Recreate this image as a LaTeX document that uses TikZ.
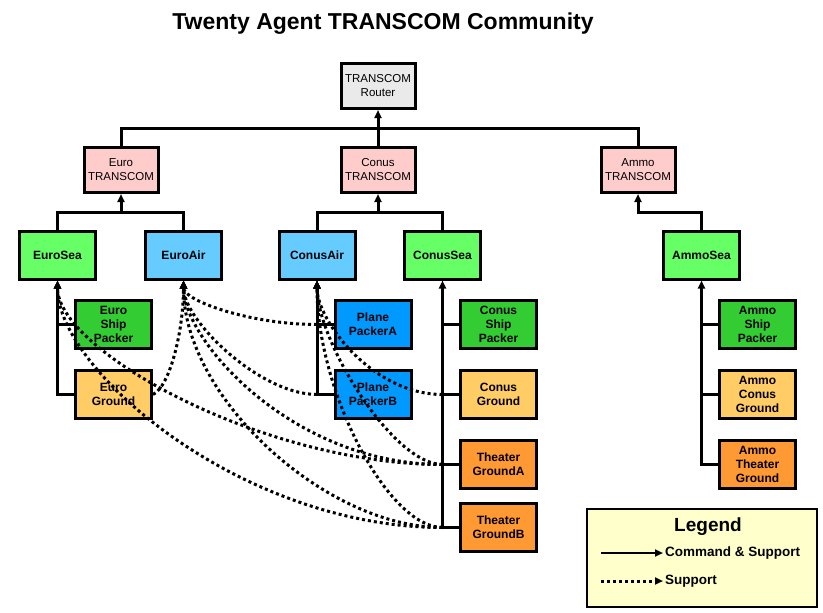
\documentclass[tikz,border=0pt]{standalone}
\usepackage{fontspec}
\setmainfont{Liberation Sans}
\usepackage{xcolor}
\usetikzlibrary{arrows.meta}
\definecolor{routerGray}{HTML}{EAEAEA}
\definecolor{hqPink}{HTML}{FFCCCC}
\definecolor{seaGreen}{HTML}{66FF66}
\definecolor{airBlue}{HTML}{66CCFF}
\definecolor{shipGreen}{HTML}{33CC33}
\definecolor{planeBlue}{HTML}{0099FF}
\definecolor{groundTan}{HTML}{FFCC66}
\definecolor{theaterOrange}{HTML}{FF9933}
\definecolor{legendYellow}{HTML}{FFFFCC}

\begin{document}
\begin{tikzpicture}[x=1pt,y=-1pt,>={Triangle[length=8pt,width=7pt]},node distance=70pt,
  box/.style={draw,line width=3pt,minimum width=76pt,minimum height=48pt,inner sep=1pt,
    align=center,font=\fontsize{12}{14}\selectfont\bfseries},
  top/.style={box,minimum width=74pt,minimum height=45pt,font=\fontsize{11.5}{14}\selectfont},
  line/.style={line width=3pt},
  cmd/.style={line width=3pt,->},
  sup/.style={line width=3pt,dash pattern=on 3pt off 3pt,->}]
  \useasboundingbox (0,0) rectangle (823,613);

  \node[font=\fontsize{23}{26}\selectfont\bfseries] (title) at (383,24) {Twenty Agent TRANSCOM Community};

  % command levels
  \node[top,fill=routerGray] (router) at (378,86) {TRANSCOM\\Router};
  \node[top,fill=hqPink] (euroT)  at (121,170) {Euro\\TRANSCOM};
  \node[top,fill=hqPink] (conusT) at (378,170) {Conus\\TRANSCOM};
  \node[top,fill=hqPink] (ammoT)  at (638,170) {Ammo\\TRANSCOM};

  \node[box,fill=seaGreen] (euroSea)  at (57.5,255)  {EuroSea};
  \node[box,fill=airBlue]  (euroAir)  at (183.5,255) {EuroAir};
  \node[box,fill=airBlue]  (conusAir) at (317,255)   {ConusAir};
  \node[box,fill=seaGreen] (conusSea) at (442.5,255) {ConusSea};
  \node[box,fill=seaGreen] (ammoSea)  at (701.5,255) {AmmoSea};

  % packers and grounds
  \node[box,fill=shipGreen] (euroShip) at (113.5,324.5) {Euro\\Ship\\Packer};
  \node[box,fill=groundTan] (euroGnd) [below of=euroShip] {Euro\\Ground};
  \node[box,fill=planeBlue] (planeA) at (373,324.5) {Plane\\PackerA};
  \node[box,fill=planeBlue] (planeB) [below of=planeA] {Plane\\PackerB};
  \node[box,fill=shipGreen] (conusShip) at (498.5,324.5) {Conus\\Ship\\Packer};
  \node[box,fill=groundTan] (conusGnd) [below of=conusShip] {Conus\\Ground};
  \node[box,fill=theaterOrange] (theaterA) [below of=conusGnd] {Theater\\GroundA};
  \node[box,fill=theaterOrange] (theaterB) [below of=theaterA,node distance=63pt] {Theater\\GroundB};
  \node[box,fill=shipGreen] (ammoShip) at (757.5,324.5) {Ammo\\Ship\\Packer};
  \node[box,fill=groundTan] (ammoGnd) [below of=ammoShip] {Ammo\\Conus\\Ground};
  \node[box,fill=theaterOrange] (ammoTh) [below of=ammoGnd] {Ammo\\Theater\\Ground};

  % tree
  \coordinate (topBus)   at (378,128);
  \coordinate (euroBus)  at (121,212);
  \coordinate (conusBus) at (378,212);
  \coordinate (ammoBus)  at (638,212);
  \draw[line] (euroT.north) |- (topBus) -| (ammoT.north);
  \draw[line] (conusT.north) -- (topBus);
  \draw[cmd] (topBus) -- (router.south);
  \draw[line] (euroSea.north) |- (euroBus) -| (euroAir.north);
  \draw[cmd] (euroBus) -- (euroT.south);
  \draw[line] (conusAir.north) |- (conusBus) -| (conusSea.north);
  \draw[cmd] (conusBus) -- (conusT.south);
  \draw[cmd] (ammoSea.north) |- (ammoBus) -- (ammoT.south);

  \draw[cmd] (euroGnd.west) -| (euroSea.south);
  \draw[line] (euroShip.west) -- (euroShip.west -| euroSea.south);
  \draw[cmd] (planeB.west) -| (conusAir.south);
  \draw[line] (planeA.west) -- (planeA.west -| conusAir.south);
  \draw[cmd] (theaterB.west) -| (conusSea.south);
  \draw[line] (conusShip.west) -- (conusShip.west -| conusSea.south);
  \draw[line] (conusGnd.west) -- (conusGnd.west -| conusSea.south);
  \draw[line] (theaterA.west) -- (theaterA.west -| conusSea.south);
  \draw[cmd] (ammoTh.west) -| (ammoSea.south);
  \draw[line] (ammoShip.west) -- (ammoShip.west -| ammoSea.south);
  \draw[line] (ammoGnd.west) -- (ammoGnd.west -| ammoSea.south);

  % support links
  \coordinate (jPlaneA)   at (planeA.west -| conusAir.south);
  \coordinate (jPlaneB)   at (planeB.west -| conusAir.south);
  \coordinate (jConusGnd) at (conusGnd.west -| conusSea.south);
  \coordinate (jTheaterA) at (theaterA.west -| conusSea.south);
  \coordinate (jTheaterB) at (theaterB.west -| conusSea.south);
  \draw[sup] (euroGnd.east) .. controls +(17,-8) and +(0,50) .. (euroAir.south);
  \draw[sup] (jPlaneA) .. controls +(-67,0) and +(0,20) .. (euroAir.south);
  \draw[sup] (jPlaneB) .. controls +(-57,0) and +(0,40) .. (euroAir.south);
  \draw[sup] (jTheaterA) .. controls +(-150,0) and +(0,60) .. (euroAir.south);
  \draw[sup] (jTheaterB) .. controls +(-117,0) and +(0,117) .. (euroAir.south);
  \draw[sup] (jTheaterA) .. controls +(-180,0) and +(0,70) .. (euroSea.south);
  \draw[sup] (jTheaterB) .. controls +(-200,0) and +(0,90) .. (euroSea.south);
  \draw[sup] (jConusGnd) .. controls +(-70,0) and +(0,40) .. (conusAir.south);
  \draw[sup] (jTheaterA) .. controls +(-50,0) and +(0,60) .. (conusAir.south);
  \draw[sup] (jTheaterB) .. controls +(-55,0) and +(0,110) .. (conusAir.south);

  % legend
  \node[draw,line width=1.5pt,fill=legendYellow,minimum width=230pt,minimum height=98pt] (legend) at (702,558) {};
  \node[font=\fontsize{19}{22}\selectfont\bfseries] (legTitle) at (708,527) {Legend};
  \node[anchor=west,inner sep=0pt,font=\fontsize{13.5}{16}\selectfont\bfseries] (legCmd) at (665,553) {Command \& Support};
  \node[anchor=west,inner sep=0pt,font=\fontsize{13.5}{16}\selectfont\bfseries] (legSup) at (665,581) {Support};
  \coordinate (legCmdStart) at (601,553);
  \coordinate (legSupStart) at (601,581);
  \draw[cmd,line width=2.5pt] (legCmdStart) -- ([xshift=-2pt]legCmd.west);
  \draw[sup] (legSupStart) -- ([xshift=-2pt]legSup.west);
\end{tikzpicture}
\end{document}
